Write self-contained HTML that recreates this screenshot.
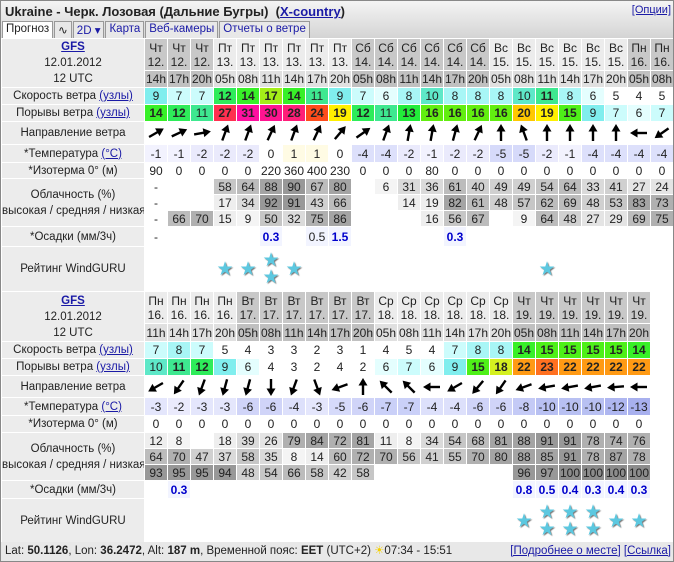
<!DOCTYPE html>
<html><head><meta charset="utf-8"><style>
body{margin:0;background:#fff;font-family:"Liberation Sans",Arial,sans-serif;color:#222}
#w{position:relative;width:672px;height:560px;border:1px solid #888;overflow:hidden}
#top{height:37px;background:linear-gradient(#f4f4f4,#d4d4d4);position:relative}
#ti{position:absolute;left:4px;top:3px;font-size:13px;font-weight:bold}
a{color:#1a1aa6;text-decoration:underline}
#op{position:absolute;right:2px;top:3px;font-size:11px}
#tabs{position:absolute;left:1px;top:20px;height:17px;display:flex}
#tabs span{font-size:11.5px;border:1px solid #999;border-bottom:none;background:#e8e8e8;padding:1px 3px 0;color:#1a1aa6;height:15px;margin-right:1px}
#tabs span.ac{background:#fff;color:#222}
table{border-collapse:collapse;table-layout:fixed;width:672px}
td{padding:0;text-align:center;border:1px solid #fff;font-size:12px;overflow:hidden;white-space:nowrap;line-height:14px}
td.L{background:#ececec;font-size:11.5px}
.g{background:#c8c8c8}.l{background:#ececec}.gh{background:#c0c0c0}.lh{background:#e0e0e0}
.b{font-weight:bold}
.k6{background:#e4fefe}.k7{background:#ccfcfc}.k8{background:#a8f6f6}.k9{background:#80eeee}.k10{background:#5ee8c8}.k11{background:#3ee890}.k12{background:#2eec5a;font-weight:bold}.k13{background:#22ec3a;font-weight:bold}.k14{background:#38f028;font-weight:bold}.k15{background:#4ef018;font-weight:bold}.k16{background:#62ee10;font-weight:bold}.k17{background:#a4ee18;font-weight:bold}.k18{background:#d4f020;font-weight:bold}.k19{background:#fff000;font-weight:bold}.k20{background:#ffc800;font-weight:bold}.k22{background:#ff9a14;font-weight:bold}.k23{background:#ff7020;font-weight:bold}.k24{background:#ff4c1c;font-weight:bold}.k27{background:#ff3050;font-weight:bold}.k28{background:#ff1e78;font-weight:bold}.k30{background:#ff1490;font-weight:bold}.k31{background:#ff10a0;font-weight:bold}
.t1{background:#fffbe4}.tm1{background:#f2f2fe}.tm2{background:#eaeafc}.tm3{background:#e4e6fc}.tm4{background:#dde0fb}.tm5{background:#d6dafa}.tm6{background:#d0d4f8}.tm7{background:#cad0f8}.tm8{background:#c4caf6}.tm10{background:#b8c0f2}.tm12{background:#aeb6f0}.tm13{background:#a8b0ee}
.c0{background:#f4f4f4}.c1{background:#eeeeee}.c2{background:#e4e4e4}.c3{background:#dadada}.c4{background:#d0d0d0}.c5{background:#c6c6c6}.c6{background:#bcbcbc}.c7{background:#b0b0b0}.c8{background:#a4a4a4}.c9{background:#989898}.c10{background:#8c8c8c}
.p{color:#0000cc;font-weight:bold;background:#f2f4ff}.pn{color:#222;background:#f2f4ff}
.s{color:#5cc8e0;font-size:19px;line-height:17px;text-shadow:1px 1px 1px #777}
svg{display:block;margin:auto}
#ft{position:absolute;left:0;top:541px;width:672px;height:19px;background:#e8e8e8;font-size:11.5px;line-height:19px}
</style></head><body>
<svg width="0" height="0" style="position:absolute"><defs><g id="a"><path d="M10 18V6" stroke="#000" stroke-width="2.4"/><path d="M10 1L5.5 8.5H14.5Z" fill="#000"/></g></defs></svg>
<div id="w">
<div id="top"><div id="ti">Ukraine - Черк. Лозовая (Дальние Бугры) &nbsp;(<a>X-country</a>)</div><div id="op"><a>[Опции]</a></div>
<div id="tabs"><span class="ac">Прогноз</span><span style="color:#222">∿</span><span>2D ▾</span><span>Карта</span><span>Веб-камеры</span><span>Отчеты о ветре</span></div></div>
<table>
<colgroup><col style="width:143px"><col span="23" style="width:23px"></colgroup>
<tr style="height:32px"><td class="L" rowspan="2" style="line-height:16px"><a class="b">GFS</a><br>12.01.2012<br>12 UTC</td>
<td class="g">Чт<br>12.</td><td class="g">Чт<br>12.</td><td class="g">Чт<br>12.</td><td class="l">Пт<br>13.</td><td class="l">Пт<br>13.</td><td class="l">Пт<br>13.</td><td class="l">Пт<br>13.</td><td class="l">Пт<br>13.</td><td class="l">Пт<br>13.</td><td class="g">Сб<br>14.</td><td class="g">Сб<br>14.</td><td class="g">Сб<br>14.</td><td class="g">Сб<br>14.</td><td class="g">Сб<br>14.</td><td class="g">Сб<br>14.</td><td class="l">Вс<br>15.</td><td class="l">Вс<br>15.</td><td class="l">Вс<br>15.</td><td class="l">Вс<br>15.</td><td class="l">Вс<br>15.</td><td class="l">Вс<br>15.</td><td class="g">Пн<br>16.</td><td class="g">Пн<br>16.</td></tr>
<tr style="height:17px"><td class="gh">14h</td><td class="gh">17h</td><td class="gh">20h</td><td class="lh">05h</td><td class="lh">08h</td><td class="lh">11h</td><td class="lh">14h</td><td class="lh">17h</td><td class="lh">20h</td><td class="gh">05h</td><td class="gh">08h</td><td class="gh">11h</td><td class="gh">14h</td><td class="gh">17h</td><td class="gh">20h</td><td class="lh">05h</td><td class="lh">08h</td><td class="lh">11h</td><td class="lh">14h</td><td class="lh">17h</td><td class="lh">20h</td><td class="gh">05h</td><td class="gh">08h</td></tr>
<tr style="height:17px"><td class="L">Скорость ветра <a>(узлы)</a></td><td class="k9">9</td><td class="k7">7</td><td class="k7">7</td><td class="k12">12</td><td class="k14">14</td><td class="k17">17</td><td class="k14">14</td><td class="k11">11</td><td class="k9">9</td><td class="k7">7</td><td class="k6">6</td><td class="k8">8</td><td class="k10">10</td><td class="k8">8</td><td class="k8">8</td><td class="k8">8</td><td class="k10">10</td><td class="k11 b">11</td><td class="k8">8</td><td class="k6">6</td><td>5</td><td>4</td><td>5</td></tr>
<tr style="height:17px"><td class="L">Порывы ветра <a>(узлы)</a></td><td class="k14">14</td><td class="k12">12</td><td class="k11">11</td><td class="k27">27</td><td class="k31">31</td><td class="k30">30</td><td class="k28">28</td><td class="k24">24</td><td class="k19">19</td><td class="k12">12</td><td class="k11">11</td><td class="k13">13</td><td class="k16">16</td><td class="k16">16</td><td class="k16">16</td><td class="k16">16</td><td class="k20">20</td><td class="k19">19</td><td class="k15">15</td><td class="k9">9</td><td class="k7">7</td><td class="k6">6</td><td class="k7">7</td></tr>
<tr style="height:23px"><td class="L">Направление ветра</td>
<td><svg width="20" height="20"><use href="#a" transform="rotate(60 10 10)"/></svg></td><td><svg width="20" height="20"><use href="#a" transform="rotate(65 10 10)"/></svg></td><td><svg width="20" height="20"><use href="#a" transform="rotate(80 10 10)"/></svg></td><td><svg width="20" height="20"><use href="#a" transform="rotate(20 10 10)"/></svg></td><td><svg width="20" height="20"><use href="#a" transform="rotate(20 10 10)"/></svg></td><td><svg width="20" height="20"><use href="#a" transform="rotate(25 10 10)"/></svg></td><td><svg width="20" height="20"><use href="#a" transform="rotate(20 10 10)"/></svg></td><td><svg width="20" height="20"><use href="#a" transform="rotate(25 10 10)"/></svg></td><td><svg width="20" height="20"><use href="#a" transform="rotate(40 10 10)"/></svg></td><td><svg width="20" height="20"><use href="#a" transform="rotate(55 10 10)"/></svg></td><td><svg width="20" height="20"><use href="#a" transform="rotate(20 10 10)"/></svg></td><td><svg width="20" height="20"><use href="#a" transform="rotate(10 10 10)"/></svg></td><td><svg width="20" height="20"><use href="#a" transform="rotate(10 10 10)"/></svg></td><td><svg width="20" height="20"><use href="#a" transform="rotate(15 10 10)"/></svg></td><td><svg width="20" height="20"><use href="#a" transform="rotate(25 10 10)"/></svg></td><td><svg width="20" height="20"><use href="#a" transform="rotate(0 10 10)"/></svg></td><td><svg width="20" height="20"><use href="#a" transform="rotate(-20 10 10)"/></svg></td><td><svg width="20" height="20"><use href="#a" transform="rotate(0 10 10)"/></svg></td><td><svg width="20" height="20"><use href="#a" transform="rotate(0 10 10)"/></svg></td><td><svg width="20" height="20"><use href="#a" transform="rotate(0 10 10)"/></svg></td><td><svg width="20" height="20"><use href="#a" transform="rotate(0 10 10)"/></svg></td><td><svg width="20" height="20"><use href="#a" transform="rotate(-90 10 10)"/></svg></td><td><svg width="20" height="20"><use href="#a" transform="rotate(-125 10 10)"/></svg></td></tr>
<tr style="height:18px"><td class="L">*Температура <a>(°C)</a></td><td class="tm1">-1</td><td class="tm1">-1</td><td class="tm2">-2</td><td class="tm2">-2</td><td class="tm2">-2</td><td>0</td><td class="t1">1</td><td class="t1">1</td><td>0</td><td class="tm4">-4</td><td class="tm4">-4</td><td class="tm2">-2</td><td class="tm1">-1</td><td class="tm2">-2</td><td class="tm2">-2</td><td class="tm5">-5</td><td class="tm5">-5</td><td class="tm2">-2</td><td class="tm1">-1</td><td class="tm4">-4</td><td class="tm4">-4</td><td class="tm4">-4</td><td class="tm4">-4</td></tr>
<tr style="height:16px"><td class="L">*Изотерма 0° (м)</td><td>90</td><td>0</td><td>0</td><td>0</td><td>0</td><td>220</td><td>360</td><td>400</td><td>230</td><td>0</td><td>0</td><td>0</td><td>80</td><td>0</td><td>0</td><td>0</td><td>0</td><td>0</td><td>0</td><td>0</td><td>0</td><td>0</td><td>0</td></tr>
<tr style="height:16px"><td class="L" rowspan="3" style="line-height:16px">Облачность (%)<br>высокая / средняя / низкая</td><td>-</td><td></td><td></td><td class="c5">58</td><td class="c6">64</td><td class="c8">88</td><td class="c9">90</td><td class="c6">67</td><td class="c8">80</td><td></td><td class="c0">6</td><td class="c3">31</td><td class="c3">36</td><td class="c6">61</td><td class="c4">40</td><td class="c4">49</td><td class="c4">49</td><td class="c5">54</td><td class="c6">64</td><td class="c3">33</td><td class="c4">41</td><td class="c2">27</td><td class="c2">24</td></tr>
<tr style="height:16px"><td>-</td><td></td><td></td><td class="c1">17</td><td class="c3">34</td><td class="c9">92</td><td class="c9">91</td><td class="c4">43</td><td class="c6">66</td><td></td><td></td><td class="c1">14</td><td class="c1">19</td><td class="c8">82</td><td class="c6">61</td><td class="c4">48</td><td class="c5">57</td><td class="c6">62</td><td class="c6">69</td><td class="c4">48</td><td class="c5">53</td><td class="c8">83</td><td class="c7">73</td></tr>
<tr style="height:16px"><td>-</td><td class="c6">66</td><td class="c7">70</td><td class="c1">15</td><td class="c0">9</td><td class="c5">50</td><td class="c3">32</td><td class="c7">75</td><td class="c8">86</td><td></td><td></td><td></td><td class="c1">16</td><td class="c5">56</td><td class="c6">67</td><td></td><td class="c0">9</td><td class="c6">64</td><td class="c4">48</td><td class="c2">27</td><td class="c2">29</td><td class="c6">69</td><td class="c7">75</td></tr>
<tr style="height:20px"><td class="L">*Осадки (мм/3ч)</td><td>-</td><td></td><td></td><td></td><td></td><td class="p">0.3</td><td></td><td class="pn">0.5</td><td class="p">1.5</td><td></td><td></td><td></td><td></td><td class="p">0.3</td><td></td><td></td><td></td><td></td><td></td><td></td><td></td><td></td><td></td></tr>
<tr style="height:45px"><td class="L">Рейтинг WindGURU</td><td></td><td></td><td></td><td class="s">★</td><td class="s">★</td><td class="s">★<br>★</td><td class="s">★</td><td></td><td></td><td></td><td></td><td></td><td></td><td></td><td></td><td></td><td></td><td class="s">★</td><td></td><td></td><td></td><td></td><td></td></tr>

<tr style="height:32px"><td class="L" rowspan="2" style="line-height:16px"><a class="b">GFS</a><br>12.01.2012<br>12 UTC</td>
<td class="l">Пн<br>16.</td><td class="l">Пн<br>16.</td><td class="l">Пн<br>16.</td><td class="l">Пн<br>16.</td><td class="g">Вт<br>17.</td><td class="g">Вт<br>17.</td><td class="g">Вт<br>17.</td><td class="g">Вт<br>17.</td><td class="g">Вт<br>17.</td><td class="g">Вт<br>17.</td><td class="l">Ср<br>18.</td><td class="l">Ср<br>18.</td><td class="l">Ср<br>18.</td><td class="l">Ср<br>18.</td><td class="l">Ср<br>18.</td><td class="l">Ср<br>18.</td><td class="g">Чт<br>19.</td><td class="g">Чт<br>19.</td><td class="g">Чт<br>19.</td><td class="g">Чт<br>19.</td><td class="g">Чт<br>19.</td><td class="g">Чт<br>19.</td><td></td></tr>
<tr style="height:18px"><td class="lh">11h</td><td class="lh">14h</td><td class="lh">17h</td><td class="lh">20h</td><td class="gh">05h</td><td class="gh">08h</td><td class="gh">11h</td><td class="gh">14h</td><td class="gh">17h</td><td class="gh">20h</td><td class="lh">05h</td><td class="lh">08h</td><td class="lh">11h</td><td class="lh">14h</td><td class="lh">17h</td><td class="lh">20h</td><td class="gh">05h</td><td class="gh">08h</td><td class="gh">11h</td><td class="gh">14h</td><td class="gh">17h</td><td class="gh">20h</td><td></td></tr>
<tr style="height:17px"><td class="L">Скорость ветра <a>(узлы)</a></td><td class="k7">7</td><td class="k8">8</td><td class="k7">7</td><td>5</td><td>4</td><td>3</td><td>3</td><td>2</td><td>3</td><td>1</td><td>4</td><td>5</td><td>4</td><td class="k7">7</td><td class="k8">8</td><td class="k8">8</td><td class="k14">14</td><td class="k15">15</td><td class="k15">15</td><td class="k15">15</td><td class="k15">15</td><td class="k14">14</td><td></td></tr>
<tr style="height:17px"><td class="L">Порывы ветра <a>(узлы)</a></td><td class="k10">10</td><td class="k11 b">11</td><td class="k12">12</td><td class="k9">9</td><td class="k6">6</td><td>4</td><td>3</td><td>2</td><td>4</td><td>2</td><td class="k6">6</td><td class="k7">7</td><td class="k6">6</td><td class="k9">9</td><td class="k15">15</td><td class="k18">18</td><td class="k22">22</td><td class="k23">23</td><td class="k22">22</td><td class="k22">22</td><td class="k22">22</td><td class="k22">22</td><td></td></tr>
<tr style="height:22px"><td class="L">Направление ветра</td>
<td><svg width="20" height="20"><use href="#a" transform="rotate(-120 10 10)"/></svg></td><td><svg width="20" height="20"><use href="#a" transform="rotate(-145 10 10)"/></svg></td><td><svg width="20" height="20"><use href="#a" transform="rotate(-160 10 10)"/></svg></td><td><svg width="20" height="20"><use href="#a" transform="rotate(-165 10 10)"/></svg></td><td><svg width="20" height="20"><use href="#a" transform="rotate(-165 10 10)"/></svg></td><td><svg width="20" height="20"><use href="#a" transform="rotate(180 10 10)"/></svg></td><td><svg width="20" height="20"><use href="#a" transform="rotate(-160 10 10)"/></svg></td><td><svg width="20" height="20"><use href="#a" transform="rotate(160 10 10)"/></svg></td><td><svg width="20" height="20"><use href="#a" transform="rotate(-110 10 10)"/></svg></td><td><svg width="20" height="20"><use href="#a" transform="rotate(0 10 10)"/></svg></td><td><svg width="20" height="20"><use href="#a" transform="rotate(-45 10 10)"/></svg></td><td><svg width="20" height="20"><use href="#a" transform="rotate(-45 10 10)"/></svg></td><td><svg width="20" height="20"><use href="#a" transform="rotate(-90 10 10)"/></svg></td><td><svg width="20" height="20"><use href="#a" transform="rotate(-120 10 10)"/></svg></td><td><svg width="20" height="20"><use href="#a" transform="rotate(-140 10 10)"/></svg></td><td><svg width="20" height="20"><use href="#a" transform="rotate(-145 10 10)"/></svg></td><td><svg width="20" height="20"><use href="#a" transform="rotate(-110 10 10)"/></svg></td><td><svg width="20" height="20"><use href="#a" transform="rotate(-100 10 10)"/></svg></td><td><svg width="20" height="20"><use href="#a" transform="rotate(-100 10 10)"/></svg></td><td><svg width="20" height="20"><use href="#a" transform="rotate(-100 10 10)"/></svg></td><td><svg width="20" height="20"><use href="#a" transform="rotate(-95 10 10)"/></svg></td><td><svg width="20" height="20"><use href="#a" transform="rotate(-90 10 10)"/></svg></td><td></td></tr>
<tr style="height:18px"><td class="L">*Температура <a>(°C)</a></td><td class="tm3">-3</td><td class="tm2">-2</td><td class="tm3">-3</td><td class="tm3">-3</td><td class="tm6">-6</td><td class="tm6">-6</td><td class="tm4">-4</td><td class="tm3">-3</td><td class="tm5">-5</td><td class="tm6">-6</td><td class="tm7">-7</td><td class="tm7">-7</td><td class="tm4">-4</td><td class="tm4">-4</td><td class="tm6">-6</td><td class="tm6">-6</td><td class="tm8">-8</td><td class="tm10">-10</td><td class="tm10">-10</td><td class="tm10">-10</td><td class="tm12">-12</td><td class="tm13">-13</td><td></td></tr>
<tr style="height:17px"><td class="L">*Изотерма 0° (м)</td><td>0</td><td>0</td><td>0</td><td>0</td><td>0</td><td>0</td><td>0</td><td>0</td><td>0</td><td>0</td><td>0</td><td>0</td><td>0</td><td>0</td><td>0</td><td>0</td><td>0</td><td>0</td><td>0</td><td>0</td><td>0</td><td>0</td><td></td></tr>
<tr style="height:16px"><td class="L" rowspan="3" style="line-height:16px">Облачность (%)<br>высокая / средняя / низкая</td><td class="c1">12</td><td class="c0">8</td><td></td><td class="c1">18</td><td class="c3">39</td><td class="c2">26</td><td class="c7">79</td><td class="c8">84</td><td class="c7">72</td><td class="c8">81</td><td class="c1">11</td><td class="c0">8</td><td class="c3">34</td><td class="c5">54</td><td class="c6">68</td><td class="c8">81</td><td class="c8">88</td><td class="c9">91</td><td class="c9">91</td><td class="c7">78</td><td class="c7">74</td><td class="c7">76</td><td></td></tr>
<tr style="height:16px"><td class="c6">64</td><td class="c7">70</td><td class="c4">47</td><td class="c3">37</td><td class="c5">58</td><td class="c3">35</td><td class="c0">8</td><td class="c1">14</td><td class="c6">60</td><td class="c7">72</td><td class="c7">70</td><td class="c5">56</td><td class="c4">41</td><td class="c5">55</td><td class="c7">70</td><td class="c8">80</td><td class="c8">88</td><td class="c8">85</td><td class="c9">91</td><td class="c7">78</td><td class="c8">87</td><td class="c7">78</td><td></td></tr>
<tr style="height:16px"><td class="c9">93</td><td class="c9">95</td><td class="c9">95</td><td class="c9">94</td><td class="c4">48</td><td class="c5">54</td><td class="c6">66</td><td class="c5">58</td><td class="c4">42</td><td class="c5">58</td><td></td><td></td><td></td><td></td><td></td><td></td><td class="c9">96</td><td class="c9">97</td><td class="c10">100</td><td class="c10">100</td><td class="c10">100</td><td class="c10">100</td><td></td></tr>
<tr style="height:18px"><td class="L">*Осадки (мм/3ч)</td><td></td><td class="p">0.3</td><td></td><td></td><td></td><td></td><td></td><td></td><td></td><td></td><td></td><td></td><td></td><td></td><td></td><td></td><td class="p">0.8</td><td class="p">0.5</td><td class="p">0.4</td><td class="p">0.3</td><td class="p">0.4</td><td class="p">0.3</td><td></td></tr>
<tr style="height:45px"><td class="L">Рейтинг WindGURU</td><td></td><td></td><td></td><td></td><td></td><td></td><td></td><td></td><td></td><td></td><td></td><td></td><td></td><td></td><td></td><td></td><td class="s">★</td><td class="s">★<br>★</td><td class="s">★<br>★</td><td class="s">★<br>★</td><td class="s">★</td><td class="s">★</td><td></td></tr>
</table>
<div id="ft"><span style="position:absolute;left:4px">Lat: <b>50.1126</b>, Lon: <b>36.2472</b>, Alt: <b>187 m</b>, Временной пояс: <b>EET</b> (UTC+2) <span style="color:#f5d000">☀</span>07:34 - 15:51</span><span style="position:absolute;right:2px"><a>[Подробнее о месте]</a> <a>[Ссылка]</a></span></div>
</div>
</body></html>
